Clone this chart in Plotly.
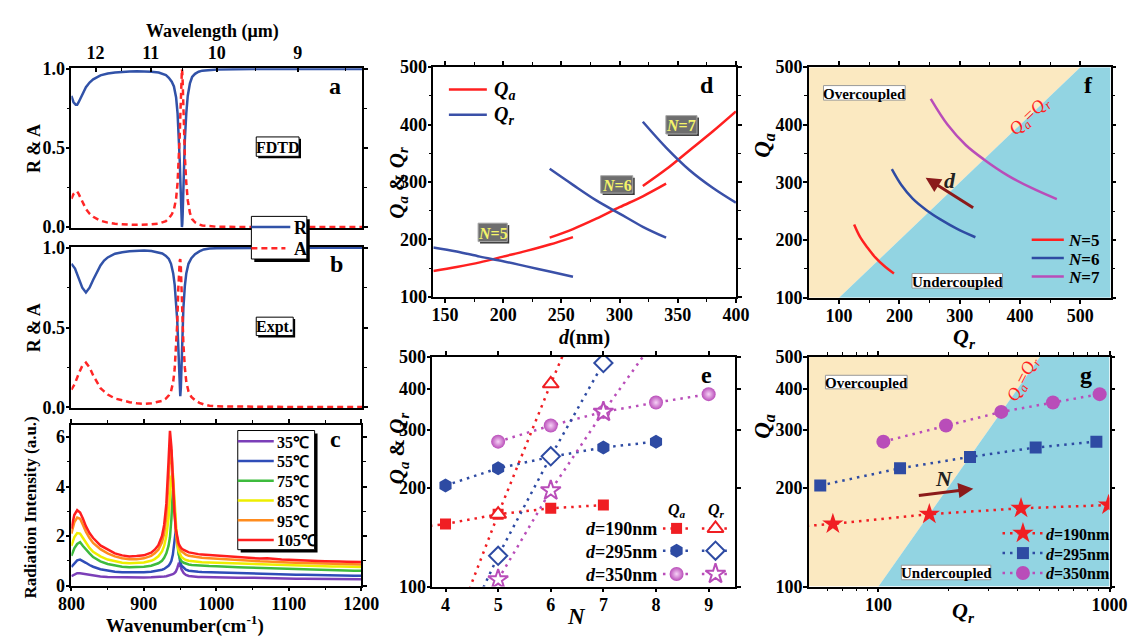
import math
import plotly.graph_objects as go

W, H = 1147, 644
SERIF = "Liberation Serif"

# ------------------------------------------------------------------ data
wl_ticks = [12, 11, 10, 9]
wl_minor = [12.5, 11.5, 10.5, 9.5, 8.5]

# panel a (FDTD)
wn_a = [800, 803, 806, 808, 810, 813, 816, 820, 825, 830,
        840, 850, 860, 870, 880, 890, 900, 910, 920,
        925, 930, 934, 938, 941, 944, 946, 948,
        949, 950, 951, 951.5, 952, 952.5, 953, 954,
        955, 956, 958, 960, 963, 966, 970, 975,
        980, 990, 1000, 1050, 1100, 1150, 1200]
R_fdtd = [0.83, 0.79, 0.775, 0.775, 0.79, 0.82, 0.85, 0.885, 0.915, 0.935,
          0.96, 0.972, 0.979, 0.983, 0.985, 0.986, 0.985, 0.983, 0.978,
          0.972, 0.962, 0.945, 0.92, 0.89, 0.82, 0.72, 0.55,
          0.42, 0.27, 0.10, 0.03, 0.0, 0.02, 0.08, 0.25,
          0.42, 0.55, 0.72, 0.83, 0.91, 0.95, 0.97, 0.983,
          0.99, 0.996, 0.998, 1.0, 1.0, 1.0, 1.0]
A_fdtd = [0.18, 0.21, 0.225, 0.225, 0.21, 0.18, 0.15, 0.115, 0.085, 0.065,
          0.04, 0.028, 0.021, 0.017, 0.015, 0.014, 0.015, 0.017, 0.022,
          0.028, 0.038, 0.055, 0.08, 0.11, 0.18, 0.28, 0.45,
          0.58, 0.73, 0.90, 0.97, 1.0, 0.98, 0.92, 0.75,
          0.58, 0.45, 0.28, 0.17, 0.09, 0.05, 0.03, 0.017,
          0.01, 0.004, 0.002, 0.0, 0.0, 0.0, 0.0]

# panel b (experiment)
wn_b = [800, 805, 810, 815, 820, 825, 830, 835, 840, 845,
        850, 860, 870, 880, 890, 900, 910, 920, 925, 930,
        934, 937, 940, 942, 944, 945.5, 947, 948, 949, 949.7,
        950.5, 951.5, 952.5, 954, 956, 958, 961, 965, 970, 976,
        982, 990, 1000, 1050, 1100, 1150, 1200]
R_expt = [0.90, 0.87, 0.81, 0.75, 0.72, 0.75, 0.80, 0.85, 0.89, 0.92,
          0.94, 0.963, 0.973, 0.978, 0.982, 0.983, 0.98, 0.972, 0.965, 0.95,
          0.93, 0.90, 0.84, 0.77, 0.65, 0.55, 0.38, 0.25, 0.12, 0.07,
          0.12, 0.30, 0.46, 0.62, 0.76, 0.84, 0.90, 0.935, 0.96, 0.978,
          0.99, 0.996, 0.998, 1.0, 1.0, 1.0, 1.0]
A_expt = [0.11, 0.15, 0.21, 0.26, 0.28, 0.25, 0.20, 0.16, 0.12, 0.10,
          0.08, 0.055, 0.042, 0.032, 0.025, 0.022, 0.025, 0.033, 0.04, 0.055,
          0.075, 0.10, 0.16, 0.24, 0.38, 0.52, 0.74, 0.86, 0.92, 0.93,
          0.88, 0.74, 0.58, 0.40, 0.25, 0.16, 0.10, 0.065, 0.045, 0.028,
          0.018, 0.01, 0.006, 0.003, 0.002, 0.002, 0.002]

# panel c (radiation spectra)
wn_c = [800, 804, 808, 812, 816, 820, 825, 830,
        840, 850, 860, 870, 880, 890, 900, 910,
        915, 920, 925, 928, 931, 934, 936, 938,
        940, 942, 944, 946, 948, 950, 952, 955,
        958, 962, 966, 970, 975, 980, 990, 1000,
        1010, 1020, 1030, 1040, 1050, 1060, 1070, 1080, 1090, 1100,
        1110, 1120, 1130, 1140, 1150, 1160, 1170, 1180, 1190, 1200]
I_35 = [0.38, 0.45, 0.50, 0.50, 0.48, 0.45, 0.42, 0.40,
        0.37, 0.35, 0.34, 0.33, 0.33, 0.33, 0.33, 0.34,
        0.34, 0.35, 0.36, 0.37, 0.38, 0.40, 0.41, 0.43,
        0.46, 0.50, 0.56, 0.70, 0.88, 0.85, 0.65, 0.50,
        0.43, 0.39, 0.37, 0.36, 0.35, 0.35, 0.34, 0.34,
        0.33, 0.33, 0.32, 0.32, 0.31, 0.31, 0.30, 0.30, 0.29, 0.29,
        0.28, 0.28, 0.28, 0.27, 0.27, 0.26, 0.26, 0.26, 0.25, 0.25]
I_55 = [0.75, 0.90, 1.02, 1.05, 1.00, 0.92, 0.83, 0.76,
        0.66, 0.60, 0.56, 0.54, 0.53, 0.53, 0.54, 0.56,
        0.58, 0.60, 0.64, 0.67, 0.72, 0.80, 0.88, 1.00,
        1.25, 1.70, 2.22, 1.90, 1.30, 0.95, 0.80, 0.70,
        0.64, 0.60, 0.58, 0.57, 0.56, 0.55, 0.54, 0.53,
        0.52, 0.51, 0.50, 0.49, 0.48, 0.47, 0.47, 0.46, 0.45, 0.45,
        0.44, 0.44, 0.43, 0.43, 0.42, 0.42, 0.41, 0.41, 0.40, 0.40]
I_75 = [1.20, 1.50, 1.68, 1.75, 1.60, 1.45, 1.30, 1.15,
        0.98, 0.87, 0.80, 0.76, 0.74, 0.74, 0.76, 0.80,
        0.84, 0.90, 1.00, 1.12, 1.30, 1.60, 1.95, 2.70,
        3.85, 3.30, 2.30, 1.60, 1.25, 1.08, 0.98, 0.92,
        0.88, 0.85, 0.83, 0.82, 0.81, 0.80, 0.79, 0.78,
        0.76, 0.75, 0.74, 0.73, 0.72, 0.71, 0.70, 0.69, 0.68, 0.67,
        0.66, 0.65, 0.65, 0.64, 0.63, 0.62, 0.62, 0.61, 0.60, 0.60]
I_85 = [1.60, 1.95, 2.12, 2.10, 1.92, 1.72, 1.52, 1.36,
        1.18, 1.05, 0.97, 0.92, 0.90, 0.90, 0.93, 1.00,
        1.07, 1.18, 1.38, 1.60, 2.00, 2.70, 3.50, 4.40,
        4.55, 3.50, 2.40, 1.70, 1.40, 1.25, 1.15, 1.08,
        1.03, 1.00, 0.98, 0.96, 0.95, 0.94, 0.93, 0.92,
        0.90, 0.89, 0.88, 0.87, 0.86, 0.85, 0.84, 0.83, 0.82, 0.82,
        0.81, 0.80, 0.79, 0.79, 0.78, 0.77, 0.77, 0.76, 0.75, 0.75]
I_95 = [2.10, 2.55, 2.75, 2.70, 2.45, 2.18, 1.92, 1.72,
        1.47, 1.30, 1.18, 1.10, 1.06, 1.06, 1.10, 1.20,
        1.30, 1.45, 1.75, 2.10, 2.80, 4.00, 5.15, 5.50,
        4.40, 3.10, 2.20, 1.75, 1.55, 1.45, 1.38, 1.30,
        1.25, 1.20, 1.18, 1.15, 1.13, 1.12, 1.10, 1.08,
        1.06, 1.04, 1.02, 1.00, 0.99, 0.98, 0.97, 0.95, 0.94, 0.93,
        0.92, 0.91, 0.90, 0.89, 0.88, 0.87, 0.87, 0.86, 0.85, 0.85]
I_105 = [2.30, 2.85, 3.05, 2.95, 2.70, 2.40, 2.12, 1.92,
         1.62, 1.45, 1.30, 1.22, 1.17, 1.19, 1.22, 1.33,
         1.45, 1.63, 2.00, 2.45, 3.30, 5.00, 6.25, 5.60,
         4.20, 3.00, 2.30, 1.90, 1.70, 1.58, 1.50, 1.44,
         1.40, 1.34, 1.32, 1.29, 1.27, 1.26, 1.24, 1.20,
         1.18, 1.16, 1.14, 1.12, 1.10, 1.09, 1.10, 1.06, 1.05, 1.04,
         1.02, 1.01, 1.00, 0.99, 0.98, 0.96, 0.97, 0.96, 0.95, 0.95]
temp_labels = ["35℃", "55℃", "75℃", "85℃", "95℃", "105℃"]
temp_series = [I_35, I_55, I_75, I_85, I_95, I_105]

# panel d: Q vs grating depth d
d_n5 = [140, 160, 180, 200, 220, 240, 260]
Qa_n5 = [145, 152, 160, 170, 180, 191, 204]
Qr_n5 = [186, 179, 170, 162, 153, 144, 135]
d_n6 = [240, 260, 280, 300, 320, 340]
Qa_n6 = [203, 218, 236, 256, 275, 297]
Qr_n6 = [323, 295, 268, 245, 222, 203]
d_n7 = [320, 340, 360, 380, 400]
Qa_n7 = [293, 322, 355, 388, 423]
Qr_n7 = [405, 360, 321, 290, 264]

# panel e / g: Q vs N
N_190 = [3, 4, 5, 6, 7]
Qa_190 = [148, 155, 166, 173, 177]
Qr_190 = [25, 63.5, 166, 414, 990]
N_295 = [4, 5, 6, 7, 8]
Qa_295 = [203, 229, 248, 265, 276]
Qr_295 = [56, 124, 249, 479, 877]
N_350 = [5, 6, 7, 8, 9]
Qa_350 = [276, 309, 340, 363, 385]
Qr_350 = [105, 196, 340, 569, 906]

# panel f: Qa vs Qr trajectories
fQr_n5 = [191, 175, 160, 147, 135, 125]
fQa_n5 = [142, 155, 170, 187, 205, 227]
fQr_n6 = [326, 295, 268, 245, 222, 203, 187.5]
fQa_n6 = [205, 220, 236, 252, 272, 296, 323]
fQr_n7 = [461, 420, 380, 340, 310, 280, 252]
fQa_n7 = [271, 290, 312, 340, 365, 400, 445]

# coupling regions (Qa = Qr boundary)
over_f_Qr = [50, 100, 500, 50]
over_f_Qa = [100, 100, 500, 500]
under_f_Qr = [100, 550, 550, 500]
under_f_Qa = [100, 100, 500, 500]
over_g_Qr = [50, 100, 500, 50]
over_g_Qa = [100, 100, 500, 500]
under_g_Qr = [100, 1000, 1000, 500]
under_g_Qa = [100, 100, 500, 500]

# ------------------------------------------------------------------ styles
BLUE_AB = "#3152A8"
RED_AB = "#FF2626"
C_COLORS = ["#7B3FB8", "#2F4DB8", "#3DBB3D", "#EEEE00", "#FF8C1E", "#FF1E1E"]
RED = "#F01E23"
BLUE = "#2E4BA3"
PURPLE = "#B94DB9"
YEL_BG = "#FBE9C1"
CYAN_BG = "#92D4E2"
ARROW = "#8B1A1A"
DOT = "2.5px,5px"
TICKSIZE = 18


def dx(p0, p1):
    return [p0 / W, p1 / W]


def dy(p0, p1):
    return [1 - p1 / H, 1 - p0 / H]


def axis(domain, rng, anchor, **kw):
    d = dict(domain=domain, range=rng, anchor=anchor, showline=True,
             linecolor="black", linewidth=1.5, mirror="ticks", ticks="outside",
             ticklen=4, tickwidth=1.5, tickcolor="black", showgrid=False,
             zeroline=False, ticklabelstandoff=-3,
             tickfont=dict(family=SERIF, size=TICKSIZE, color="black", weight="bold"))
    d.update(kw)
    return d


def minor(vals):
    return dict(ticks="outside", ticklen=3, tickwidth=1.2, tickcolor="black",
                tickvals=vals)


fig = go.Figure()

# ---- panel a
fig.add_trace(go.Scatter(x=wn_a, y=R_fdtd, mode="lines",
                         line=dict(color=BLUE_AB, width=2.5), xaxis="x", yaxis="y"))
fig.add_trace(go.Scatter(x=wn_a, y=A_fdtd, mode="lines",
                         line=dict(color=RED_AB, width=2.5, dash="6px,4px"),
                         xaxis="x", yaxis="y"))
# ---- panel b
fig.add_trace(go.Scatter(x=wn_b, y=R_expt, mode="lines",
                         line=dict(color=BLUE_AB, width=2.5), xaxis="x2", yaxis="y2"))
fig.add_trace(go.Scatter(x=wn_b, y=A_expt, mode="lines",
                         line=dict(color=RED_AB, width=2.5, dash="6px,4px"),
                         xaxis="x2", yaxis="y2"))
# ---- panel c
for ser, col in zip(temp_series, C_COLORS):
    fig.add_trace(go.Scatter(x=wn_c, y=ser, mode="lines",
                             line=dict(color=col, width=2.5), xaxis="x3", yaxis="y3"))
# ---- panel d
for dd, qa in [(d_n5, Qa_n5), (d_n6, Qa_n6), (d_n7, Qa_n7)]:
    fig.add_trace(go.Scatter(x=dd, y=qa, mode="lines", line_shape="spline",
                             line=dict(color="#FF2020", width=2.5), xaxis="x4", yaxis="y4"))
for dd, qr in [(d_n5, Qr_n5), (d_n6, Qr_n6), (d_n7, Qr_n7)]:
    fig.add_trace(go.Scatter(x=dd, y=qr, mode="lines", line_shape="spline",
                             line=dict(color="#3A50A8", width=2.5), xaxis="x4", yaxis="y4"))
# ---- panel e
e_qa = [(N_190, Qa_190, RED, dict(symbol="square", size=11, color=RED)),
        (N_295, Qa_295, BLUE, dict(symbol="hexagon", size=14, color=BLUE)),
        (N_350, Qa_350, PURPLE, dict(symbol="circle", size=14, color=PURPLE,
                                     gradient=dict(type="radial", color="#F6D2F6")))]
e_qr = [(N_190, Qr_190, RED, dict(symbol="triangle-up", size=14, color="white",
                                  line=dict(color=RED, width=2))),
        (N_295, Qr_295, BLUE, dict(symbol="diamond", size=14, color="white",
                                   line=dict(color=BLUE, width=2))),
        (N_350, Qr_350, PURPLE, dict(symbol="star", size=15, color="white",
                                     line=dict(color=PURPLE, width=2)))]
for n, q, col, mk in e_qa + e_qr:
    fig.add_trace(go.Scatter(x=n, y=q, mode="lines+markers",
                             line=dict(color=col, width=2.5, dash=DOT),
                             marker=mk, xaxis="x5", yaxis="y5"))
# ---- panel f
fig.add_trace(go.Scatter(x=over_f_Qr, y=over_f_Qa, fill="toself", fillcolor=YEL_BG,
                         mode="none", xaxis="x6", yaxis="y6"))
fig.add_trace(go.Scatter(x=under_f_Qr, y=under_f_Qa, fill="toself", fillcolor=CYAN_BG,
                         mode="none", xaxis="x6", yaxis="y6"))
for qr, qa, col in [(fQr_n5, fQa_n5, "#FF2020"), (fQr_n6, fQa_n6, BLUE),
                    (fQr_n7, fQa_n7, PURPLE)]:
    fig.add_trace(go.Scatter(x=qr, y=qa, mode="lines", line_shape="spline",
                             line=dict(color=col, width=2.5), xaxis="x6", yaxis="y6"))
# ---- panel g
fig.add_trace(go.Scatter(x=over_g_Qr, y=over_g_Qa, fill="toself", fillcolor=YEL_BG,
                         mode="none", xaxis="x7", yaxis="y7"))
fig.add_trace(go.Scatter(x=under_g_Qr, y=under_g_Qa, fill="toself", fillcolor=CYAN_BG,
                         mode="none", xaxis="x7", yaxis="y7"))
g_ser = [(Qr_190, Qa_190, RED, dict(symbol="star", size=16, color=RED)),
         (Qr_295, Qa_295, BLUE, dict(symbol="square", size=12, color=BLUE)),
         (Qr_350, Qa_350, PURPLE, dict(symbol="circle", size=14, color=PURPLE))]
for qr, qa, col, mk in g_ser:
    fig.add_trace(go.Scatter(x=qr, y=qa, mode="lines+markers",
                             line=dict(color=col, width=2.5, dash=DOT),
                             marker=mk, xaxis="x7", yaxis="y7"))

# ---------------------------------------------------------- overlay (pixel) layer
shapes = []
annotations = []


def ov_rect(x0, y0, x1, y1, fill, line="black", lw=1, layer="below"):
    shapes.append(dict(type="rect", xref="x8", yref="y8", x0=x0, y0=y0, x1=x1, y1=y1,
                       fillcolor=fill, line=dict(color=line, width=lw), layer=layer))


def ov_line(x0, x1, y, color, dash="solid", width=2.5):
    fig.add_trace(go.Scatter(x=[x0, x1], y=[y, y], mode="lines",
                             line=dict(color=color, width=width, dash=dash),
                             xaxis="x8", yaxis="y8"))


def ov_marker(x, y, mk):
    fig.add_trace(go.Scatter(x=[x], y=[y], mode="markers", marker=mk,
                             xaxis="x8", yaxis="y8"))


def txt(x, y, text, size=17, color="black", xanchor="center", yanchor="middle",
        angle=0, bold=True, **kw):
    a = dict(x=x / W, y=1 - y / H, xref="paper", yref="paper", text=text,
             showarrow=False, xanchor=xanchor, yanchor=yanchor, textangle=angle,
             font=dict(family=SERIF, size=size, color=color,
                       weight="bold" if bold else "normal"))
    a.update(kw)
    annotations.append(a)


QA = "<i>Q</i><sub><i>a</i></sub>"
QR = "<i>Q</i><sub><i>r</i></sub>"

# legend a/b
ov_rect(248, 216, 305, 260, "black", lw=0)
ov_rect(245, 213, 302, 257, "white")
ov_line(245, 285, 224, BLUE_AB)
ov_line(245, 280, 246, RED_AB, dash="6px,4px")
txt(287, 225, "R", 18, xanchor="left")
txt(287, 247, "A", 18, xanchor="left")

# legend c
ov_rect(234, 437, 313, 560, "black", lw=0)
ov_rect(231, 434, 310, 557, "white")
for i, (lab, col) in enumerate(zip(temp_labels, C_COLORS)):
    yy = 445 + i * 20.4
    ov_line(231, 268, yy, col, width=2.5)
    txt(269, yy + 1, lab, 16, xanchor="left")

# legend d
ov_line(448, 487, 82, "#FF2020", width=2.5)
ov_line(448, 487, 108, "#3A50A8", width=2.5)
txt(492, 83, QA, 20, xanchor="left")
txt(492, 109, QR, 20, xanchor="left")

# legend e
txt(682, 517, QA, 16)
txt(723, 517, QR, 16)
e_rows = [("<i>d</i>=190nm", 535), ("<i>d</i>=295nm", 558), ("<i>d</i>=350nm", 582)]
for (lab, yy), (n, q, col, mk), (n2, q2, col2, mk2) in zip(e_rows, e_qa, e_qr):
    ov_line(668, 697, yy, col, dash=DOT)
    ov_line(708, 737, yy, col, dash=DOT)
    ov_marker(682, yy, mk)
    ov_marker(722, yy, mk2)
    txt(664, yy + 1, lab, 18, xanchor="right")

# legend f
for i, (lab, col) in enumerate([("<i>N</i>=5", "#FF2020"), ("<i>N</i>=6", BLUE),
                                 ("<i>N</i>=7", PURPLE)]):
    yy = 237 + i * 19
    ov_line(1047, 1080, yy, col, width=2.5)
    txt(1082, yy + 1, lab, 17, xanchor="left")

# legend g
for i, (lab, (qr, qa, col, mk)) in enumerate(zip(["<i>d</i>=190nm", "<i>d</i>=295nm",
                                                   "<i>d</i>=350nm"], g_ser)):
    yy = 540 + i * 20.5
    ov_line(1017, 1059, yy, col, dash=DOT)
    ov_marker(1038, yy, mk)
    txt(1060, yy + 1, lab, 16, xanchor="left")

# boxed labels
ov_rect(252, 133, 296, 153, "black", lw=0, layer="above")
ov_rect(250, 131, 294, 151, "white", layer="above")
txt(272, 141.5, "FDTD", 16)
ov_rect(252, 319, 290, 338, "black", lw=0, layer="above")
ov_rect(250, 317, 288, 336, "white", layer="above")
txt(269, 327, "Expt.", 16)

for (x0, y0, x1, y1, lab) in [(478, 220, 508, 239, "<i>N</i>=5"),
                              (604, 171, 637, 189, "<i>N</i>=6"),
                              (671, 109, 703, 128, "<i>N</i>=7")]:
    ov_rect(x0 + 2, y0 + 2, x1 + 2, y1 + 2, "#3A3A3A", lw=0, layer="above")
    ov_rect(x0, y0, x1, y1, "#6E6E6E", line="#A8A8A8", layer="above")
    txt((x0 + x1) / 2, (y0 + y1) / 2 + 1, lab, 16, color="#F4F46A")

for (x0, y0, x1, y1, lab) in [(833, 78, 917, 93, "Overcoupled"),
                              (924, 272, 1017, 287, "Undercoupled"),
                              (835, 377, 919, 391, "Overcoupled"),
                              (913, 573, 1005, 588, "Undercoupled")]:
    ov_rect(x0, y0, x1, y1, "white", line="#9A9A9A", layer="above")
    txt((x0 + x1) / 2, (y0 + y1) / 2 + 1, lab, 15)

# arrows
annotations.append(dict(x=938 / W, y=1 - 173 / H, xref="paper", yref="paper",
                        ax=49, ay=31, showarrow=True, arrowhead=2, arrowsize=1,
                        arrowwidth=3, arrowcolor=ARROW, text=""))
annotations.append(dict(x=987 / W, y=1 - 494 / H, xref="paper", yref="paper",
                        ax=-56, ay=7, showarrow=True, arrowhead=2, arrowsize=1,
                        arrowwidth=3, arrowcolor=ARROW, text=""))
txt(963, 176, "<i>d</i>", 22, color="#222222")
txt(957, 484, "<i>N</i>", 22, color="#222222")

# Qa = Qr labels
txt(1045, 110, QA + "=" + QR, 18, color="#FF2020", angle=-44, bold=False)
txt(1038, 381, QA + "=" + QR, 18, color="#FF2020", angle=-63, bold=False)

# panel letters
for (x, y, s) in [(331, 78, "a"), (332, 262, "b"), (331, 443, "c"), (713, 77, "d"),
                  (713, 377, "e"), (1105, 77, "f"), (1103, 377, "g")]:
    txt(x, y, s, 24)

# axis titles
txt(205, 22, "Wavelength (μm)", 18)
txt(21, 143, "R &amp; A", 18, angle=-90)
txt(21, 328, "R &amp; A", 18, angle=-90)
txt(18, 514, "Radiation Intensity (a.u.)", 17, angle=-90)
txt(177, 634, "Wavenumber(cm<sup>-1</sup>)", 19)
txt(396, 178, QA + " &amp; " + QR, 21, angle=-90)
txt(396, 452, QA + " &amp; " + QR, 21, angle=-90)
txt(587, 338, "<i>d</i>(nm)", 20)
txt(579, 626, "<i>N</i>", 23)
txt(772, 140, QA, 23, angle=-90)
txt(772, 430, QA, 23, angle=-90)
txt(978, 338, QR, 22)
txt(977, 621, QR, 22)

# ------------------------------------------------------------------ layout
wl_pos = [1e4 / w for w in wl_ticks]
wl_minor_pos = [1e4 / w for w in wl_minor]

fig.update_layout(
    width=W, height=H, margin=dict(l=0, r=0, t=0, b=0),
    paper_bgcolor="white", plot_bgcolor="rgba(0,0,0,0)", showlegend=False,
    xaxis=axis(dx(60, 359), [800, 1200], "y", side="top", tickvals=wl_pos,
               ticktext=[str(w) for w in wl_ticks], ticks="inside", mirror=True,
               ticklabelstandoff=0,
               minor=dict(ticks="inside", ticklen=3, tickwidth=1.2, tickcolor="black",
                          tickvals=wl_minor_pos)),
    yaxis=axis(dy(60, 225), [-0.006, 1.006], "x", tickvals=[0, 0.5, 1],
               ticktext=["0.0", "0.5", "1.0"], minor=minor([0.25, 0.75])),
    xaxis2=axis(dx(60, 359), [800, 1200], "y2", showticklabels=False, ticks="",
                mirror=True),
    yaxis2=axis(dy(244.5, 411), [-0.006, 1.006], "x2", tickvals=[0, 0.5, 1],
                ticktext=["0.0", "0.5", "1.0"], minor=minor([0.25, 0.75])),
    xaxis3=axis(dx(60, 358), [800, 1200], "y3", tickvals=[800, 900, 1000, 1100, 1200],
                minor=minor([850, 950, 1050, 1150])),
    yaxis3=axis(dy(428, 594), [0, 6.5], "x3", tickvals=[0, 2, 4, 6],
                minor=minor([1, 3, 5])),
    xaxis4=axis(dx(432, 743), [140, 400], "y4", tickvals=[150, 200, 250, 300, 350, 400],
                minor=minor([175, 225, 275, 325, 375])),
    yaxis4=axis(dy(59, 296), [100, 500], "x4", tickvals=[100, 200, 300, 400, 500],
                minor=minor([150, 250, 350, 450])),
    xaxis5=axis(dx(431, 742), [3.75, 9.5], "y5", tickvals=[4, 5, 6, 7, 8, 9]),
    yaxis5=axis(dy(358, 595), [2, math.log10(500)], "x5", type="log",
                tickvals=[100, 200, 300, 400, 500], ticktext=["100", "200", "300", "400", "500"]),
    xaxis6=axis(dx(818, 1128), [50, 550], "y6", tickvals=[100, 200, 300, 400, 500],
                minor=minor([150, 250, 350, 450])),
    yaxis6=axis(dy(59, 297), [100, 500], "x6", tickvals=[100, 200, 300, 400, 500],
                minor=minor([150, 250, 350, 450])),
    xaxis7=axis(dx(818, 1127), [math.log10(50), 3], "y7", type="log",
                tickvals=[100, 1000], ticktext=["100", "1000"],
                minor=minor([60, 70, 80, 90, 200, 300, 400, 500, 600, 700, 800, 900])),
    yaxis7=axis(dy(358, 595), [2, math.log10(500)], "x7", type="log",
                tickvals=[100, 200, 300, 400, 500], ticktext=["100", "200", "300", "400", "500"]),
    xaxis8=dict(domain=[0, 1], range=[0, W], anchor="y8", visible=False,
                showgrid=False, zeroline=False),
    yaxis8=dict(domain=[0, 1], range=[H, 0], anchor="x8", visible=False,
                showgrid=False, zeroline=False),
    shapes=shapes,
    annotations=annotations,
)

fig.write_html("out.html", post_script="document.body.style.margin='0px';")
